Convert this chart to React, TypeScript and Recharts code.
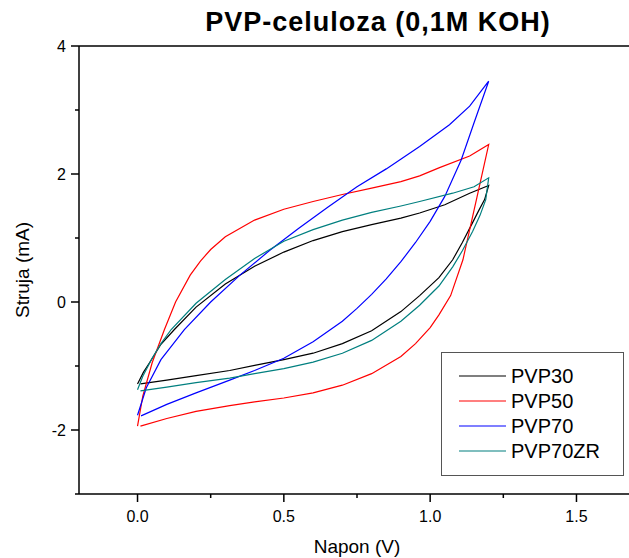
import React from 'react';
import { LineChart, Line, XAxis, YAxis, Legend } from 'recharts';

const FONT = '"Liberation Sans", Arial, sans-serif';

// [napon (V), struja (mA)] - anodic sweep 0 -> 1.2 V, then cathodic back to 0
const pvp30: [number, number][] = [
    [0, -1.28], [0.02, -1.1], [0.041, -0.95], [0.08, -0.66], [0.126, -0.43], [0.2, -0.08],
    [0.3, 0.28], [0.4, 0.56], [0.5, 0.78], [0.6, 0.96], [0.7, 1.1], [0.8, 1.21], [0.9, 1.31],
    [0.964, 1.39], [1.05, 1.52], [1.135, 1.7], [1.2, 1.82],
    [1.186, 1.6], [1.165, 1.42], [1.145, 1.24], [1.11, 0.93], [1.077, 0.66], [1.03, 0.38],
    [0.964, 0.1], [0.9, -0.15], [0.8, -0.45], [0.7, -0.65], [0.6, -0.8], [0.5, -0.9],
    [0.4, -0.99], [0.315, -1.07], [0.2, -1.15], [0.1, -1.22], [0.01, -1.28],
];

const pvp50: [number, number][] = [
    [0, -1.94], [0.018, -1.47], [0.05, -0.95], [0.092, -0.43], [0.13, 0.0], [0.18, 0.42],
    [0.215, 0.64], [0.25, 0.82], [0.3, 1.02], [0.4, 1.28], [0.5, 1.45], [0.6, 1.57], [0.7, 1.68],
    [0.8, 1.78], [0.9, 1.88], [0.964, 1.97], [1.032, 2.1], [1.135, 2.28], [1.2, 2.46],
    [1.16, 1.64], [1.112, 0.66], [1.07, 0.1], [1.03, -0.2], [1.0, -0.4], [0.95, -0.65],
    [0.9, -0.85], [0.8, -1.12], [0.7, -1.3], [0.6, -1.42], [0.5, -1.5], [0.4, -1.56],
    [0.315, -1.62], [0.2, -1.71], [0.1, -1.82], [0.01, -1.94],
];

const pvp70: [number, number][] = [
    [0, -1.77], [0.03, -1.34], [0.08, -0.9], [0.16, -0.43], [0.25, 0.0], [0.35, 0.42],
    [0.45, 0.8], [0.55, 1.15], [0.65, 1.48], [0.75, 1.8], [0.85, 2.08], [0.964, 2.43],
    [1.066, 2.77], [1.135, 3.06], [1.2, 3.45],
    [1.15, 2.8], [1.106, 2.22], [1.05, 1.65], [1.0, 1.26], [0.95, 0.93], [0.9, 0.63],
    [0.85, 0.36], [0.8, 0.12], [0.75, -0.1], [0.7, -0.3], [0.6, -0.62], [0.5, -0.88],
    [0.4, -1.07], [0.315, -1.22], [0.2, -1.42], [0.1, -1.6], [0.012, -1.78],
];

const pvp70zr: [number, number][] = [
    [0, -1.37], [0.018, -1.16], [0.05, -0.88], [0.08, -0.65], [0.115, -0.43], [0.2, -0.02],
    [0.3, 0.35], [0.4, 0.68], [0.5, 0.95], [0.6, 1.13], [0.7, 1.28], [0.8, 1.4], [0.9, 1.5],
    [0.964, 1.57], [1.077, 1.7], [1.15, 1.8], [1.2, 1.94],
    [1.19, 1.6], [1.17, 1.35], [1.145, 1.1], [1.11, 0.8], [1.077, 0.55], [1.03, 0.25],
    [0.964, -0.05], [0.9, -0.3], [0.8, -0.6], [0.7, -0.8], [0.6, -0.94], [0.5, -1.04],
    [0.4, -1.12], [0.315, -1.19], [0.2, -1.26], [0.1, -1.33], [0.01, -1.39],
];

const series = [
    { name: 'PVP30', color: '#000000', points: pvp30 },
    { name: 'PVP50', color: '#ff0000', points: pvp50 },
    { name: 'PVP70', color: '#0000ff', points: pvp70 },
    { name: 'PVP70ZR', color: '#007f7f', points: pvp70zr },
];

const xTicks = [0, 0.25, 0.5, 0.75, 1.0, 1.25, 1.5];
const yTicks = [-3, -2, -1, 0, 1, 2, 3, 4];

const isHalf = (v: number) => Math.abs(v * 2 - Math.round(v * 2)) < 1e-6;
const isEven = (v: number) => Math.abs(v % 2) < 1e-6;

const BottomTick = ({ x, y, payload }: any) => {
    const major = isHalf(payload.value);
    return (
        <g>
            <line x1={x} x2={x} y1={y} y2={y + (major ? 8 : 4)} stroke="#000" strokeWidth={1.5} />
            {major && (
                <text x={x} y={y + 28} textAnchor="middle" fontSize={16} fontFamily={FONT} fill="#000">
                    {payload.value.toFixed(1)}
                </text>
            )}
        </g>
    );
};

const TopTick = ({ x, y }: any) => (
    <line x1={x} x2={x} y1={y} y2={y - 3} stroke="#555" strokeWidth={1} />
);

const LeftTick = ({ x, y, payload }: any) => {
    const major = isEven(payload.value);
    return (
        <g>
            <line x1={x} x2={x - (major ? 8 : 4)} y1={y} y2={y} stroke="#000" strokeWidth={1.5} />
            {major && (
                <text x={x - 13} y={y} dy="0.36em" textAnchor="end" fontSize={16} fontFamily={FONT} fill="#000">
                    {payload.value}
                </text>
            )}
        </g>
    );
};

const LegendBox = () => (
    <svg width={183} height={124} style={{ display: 'block' }}>
        <rect x={0.5} y={0.5} width={182} height={123} fill="#fff" stroke="#555" strokeWidth={1} />
        {series.map((s, k) => {
            const ry = 24 + k * 25;
            return (
                <g key={s.name}>
                    <line x1={18} x2={65} y1={ry} y2={ry} stroke={s.color} strokeWidth={1.2} />
                    <text x={70} y={ry} dy="0.36em" fontSize={20} fontFamily={FONT} fill="#000">
                        {s.name}
                    </text>
                </g>
            );
        })}
    </svg>
);

export default function App() {
    return (
        <div style={{ position: 'absolute', left: 0, top: 0, width: 629, height: 558, overflow: 'hidden', background: '#fff', fontFamily: FONT }}>
            <LineChart width={660} height={558} margin={{ top: 16, right: 25, bottom: 0, left: 0 }}>
                <XAxis
                    xAxisId="top"
                    orientation="top"
                    type="number"
                    domain={[-0.2, 1.7]}
                    ticks={xTicks}
                    interval={0}
                    height={30}
                    tickSize={0}
                    tickMargin={0}
                    tickLine={false}
                    tick={<TopTick />}
                    axisLine={{ stroke: '#000', strokeWidth: 1.5 }}
                />
                <XAxis
                    dataKey="v"
                    type="number"
                    domain={[-0.2, 1.7]}
                    ticks={xTicks}
                    interval={0}
                    height={64}
                    tickSize={0}
                    tickMargin={0}
                    tickLine={false}
                    tick={<BottomTick />}
                    axisLine={{ stroke: '#000', strokeWidth: 1.5 }}
                    label={{ value: 'Napon (V)', position: 'insideBottom', offset: 5, fontSize: 19, fill: '#000', fontFamily: FONT }}
                />
                <YAxis
                    type="number"
                    domain={[-3, 4]}
                    ticks={yTicks}
                    interval={0}
                    width={79}
                    tickSize={0}
                    tickMargin={0}
                    tickLine={false}
                    tick={<LeftTick />}
                    axisLine={{ stroke: '#000', strokeWidth: 1.5 }}
                    label={{ value: 'Struja (mA)', angle: -90, position: 'insideLeft', offset: 22, fontSize: 19, fill: '#000', fontFamily: FONT, style: { textAnchor: 'middle' } }}
                />
                <Legend
                    layout="horizontal"
                    verticalAlign="middle"
                    align="center"
                    wrapperStyle={{ left: 441, top: 352, width: 183, height: 124 }}
                    content={() => <LegendBox />}
                />
                {series.map(s => (
                    <Line
                        key={s.name}
                        name={s.name}
                        data={s.points.map(([v, i]) => ({ v, i }))}
                        dataKey="i"
                        type="linear"
                        stroke={s.color}
                        strokeWidth={1.2}
                        dot={false}
                        activeDot={false}
                        isAnimationActive={false}
                    />
                ))}
            </LineChart>
            <div style={{ position: 'absolute', left: 0, top: 7, width: 756, textAlign: 'center', fontWeight: 'bold', fontSize: 27, letterSpacing: 1, lineHeight: '30px', color: '#000' }}>
                PVP-celuloza (0,1M KOH)
            </div>
        </div>
    );
}
